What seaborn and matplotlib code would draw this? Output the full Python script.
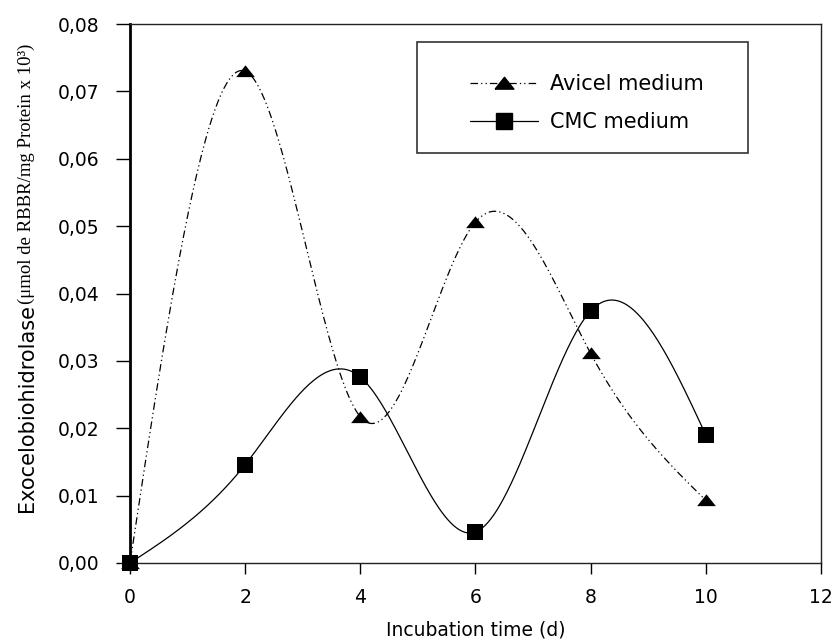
import numpy as np
import matplotlib
matplotlib.use("Agg")
import matplotlib.pyplot as plt
from matplotlib.lines import Line2D
from matplotlib.patches import Rectangle
from matplotlib.ticker import FuncFormatter
import seaborn as sns

# data
days = [0, 2, 4, 6, 8, 10]
avicel = [0.0, 0.0730, 0.0217, 0.0506, 0.0311, 0.0093]
cmc = [0.0, 0.0146, 0.0276, 0.0046, 0.0374, 0.0190]
x_ticks = [0, 2, 4, 6, 8, 10, 12]
y_ticks = [0.00, 0.01, 0.02, 0.03, 0.04, 0.05, 0.06, 0.07, 0.08]
labels = ["Avicel medium", "CMC medium"]


def spline_curve(x, y, n=400):
    """natural cubic spline through the points (like the SigmaPlot curve)"""
    x = np.asarray(x, float)
    y = np.asarray(y, float)
    k = len(x)
    h = np.diff(x)
    A = np.zeros((k, k))
    r = np.zeros(k)
    A[0, 0] = A[-1, -1] = 1
    for i in range(1, k - 1):
        A[i, i - 1] = h[i - 1]
        A[i, i] = 2 * (h[i - 1] + h[i])
        A[i, i + 1] = h[i]
        r[i] = 6 * ((y[i + 1] - y[i]) / h[i] - (y[i] - y[i - 1]) / h[i - 1])
    M = np.linalg.solve(A, r)
    xs = np.linspace(x[0], x[-1], n)
    idx = np.clip(np.searchsorted(x, xs) - 1, 0, k - 2)
    x0, x1 = x[idx], x[idx + 1]
    hh = x1 - x0
    t0 = x1 - xs
    t1 = xs - x0
    ys = (M[idx] * t0**3 + M[idx + 1] * t1**3) / (6 * hh) \
        + (y[idx] / hh - M[idx] * hh / 6) * t0 \
        + (y[idx + 1] / hh - M[idx + 1] * hh / 6) * t1
    return xs, ys


sns.set_style("ticks")
plt.rcParams["font.family"] = ["DejaVu Sans"]
plt.rcParams["text.color"] = "black"
plt.rcParams["axes.labelcolor"] = "black"
plt.rcParams["xtick.labelcolor"] = "black"
plt.rcParams["ytick.labelcolor"] = "black"

fig = plt.figure(figsize=(8.35, 6.44), dpi=100)
ax = fig.add_axes([0.1557, 0.1258, 0.8275, 0.8369])

dash_dot_dot = (0, (6, 2.5, 1, 2.5, 1, 2.5))
tri = [(-1, -0.6), (1, -0.6), (0, 0.66), (-1, -0.6)]

#Smooth curves
xs, ys = spline_curve(days, avicel)
sns.lineplot(x=xs, y=ys, ax=ax, color="black", linewidth=0.9, linestyle=dash_dot_dot, sort=False)
xs, ys = spline_curve(days, cmc)
sns.lineplot(x=xs, y=ys, ax=ax, color="black", linewidth=0.9, sort=False)

#Markers
sns.scatterplot(x=days, y=avicel, ax=ax, marker=tri, s=13.5**2, color="black",
                linewidth=0, zorder=3, clip_on=False)
sns.scatterplot(x=days, y=cmc, ax=ax, marker="s", s=11.5**2, color="black",
                linewidth=0, zorder=3, clip_on=False)

ax.set_xlim(0, 12)
ax.set_ylim(0, 0.08)
ax.set_xticks(x_ticks)
ax.set_yticks(y_ticks)
ax.yaxis.set_major_formatter(FuncFormatter(lambda v, _: f"{v:.2f}".replace(".", ",")))
ax.tick_params(axis="y", length=10, width=1, pad=12, labelsize=13.5, color="black")
ax.tick_params(axis="x", length=8, width=1, pad=10, labelsize=13.5, color="black")

for side in ["top", "right", "bottom"]:
    ax.spines[side].set_linewidth(1)
    ax.spines[side].set_color("#222222")
ax.spines["left"].set_linewidth(2)
ax.spines["left"].set_color("black")

ax.set_xlabel("Incubation time (d)", fontsize=13.5, labelpad=10)
ax.set_ylabel("")

#Y label in two fonts
t1 = fig.text(0.032, 0.205, "Exocelobiohidrolase", rotation=90, ha="center",
              va="bottom", fontsize=15, family="DejaVu Sans")
ax.annotate("(μmol de RBBR/mg Protein x 10³)", xy=(0.5, 1), xycoords=t1,
            rotation=90, ha="center", va="bottom", fontsize=13.5,
            family="Liberation Serif")

#Legend
handles = [
    Line2D([], [], color="black", linewidth=0.9, linestyle=dash_dot_dot,
           marker=tri, markersize=13.5),
    Line2D([], [], color="black", linewidth=0.9, marker="s", markersize=11.5),
]
ax.legend(handles, labels, loc="upper left", bbox_to_anchor=(0.492, 0.907),
          frameon=False, fontsize=15, borderpad=0, borderaxespad=0,
          handlelength=3.25, handletextpad=0.6, labelspacing=0.85)
ax.add_patch(Rectangle((0.4153, 0.7607), 0.479, 0.206, transform=ax.transAxes,
                       fill=False, edgecolor="#333333", linewidth=1.2))

plt.savefig("out.png", dpi=100)
